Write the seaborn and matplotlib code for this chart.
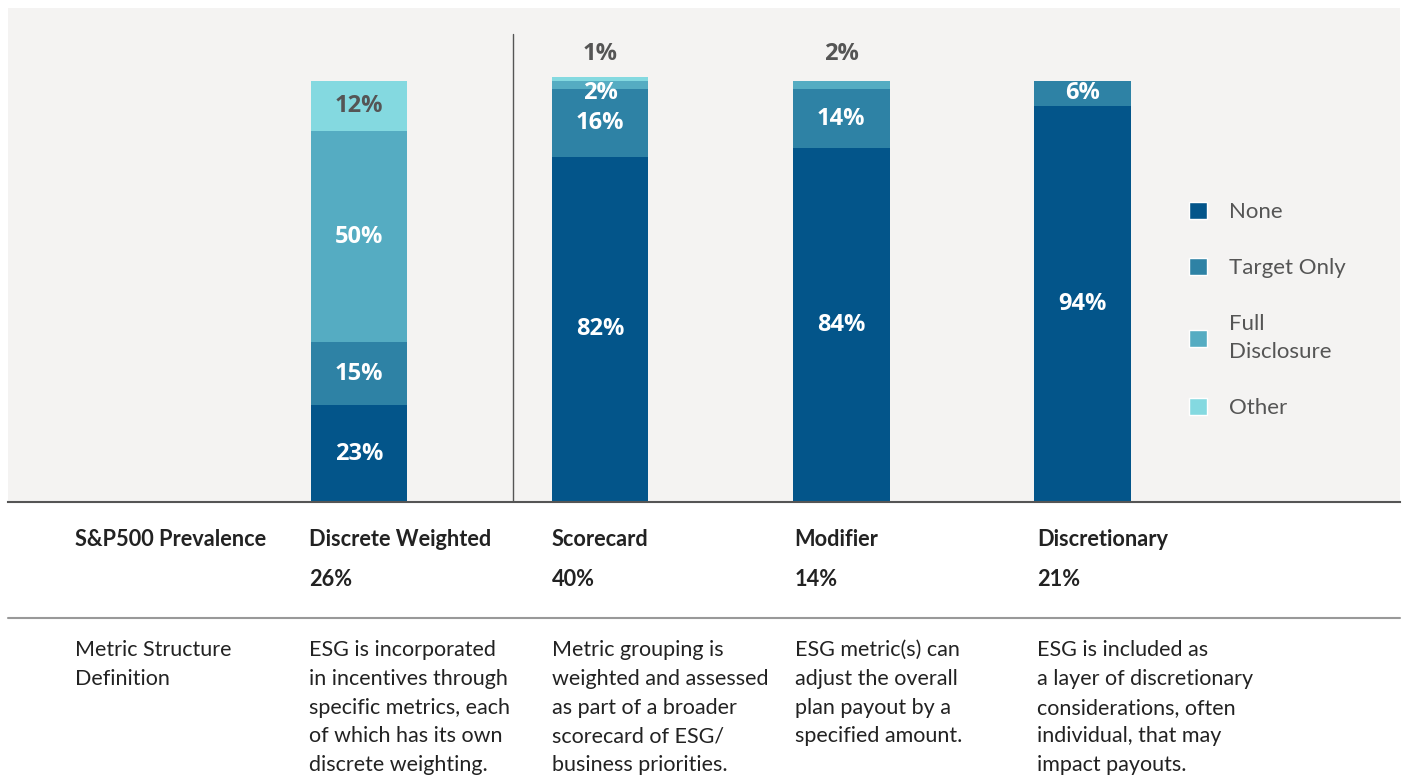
import pandas as pd
import numpy as np
import seaborn as sns
import matplotlib.pyplot as plt
from matplotlib.patches import Patch
from matplotlib.lines import Line2D
from matplotlib.transforms import blended_transform_factory

# chart values
categories = ['Discrete Weighted', 'Scorecard', 'Modifier', 'Discretionary']
prevalence = ['26%', '40%', '14%', '21%']
none = [23, 82, 84, 94]
target_only = [15, 16, 14, 6]
full_disclosure = [50, 2, 2, 0]
other = [12, 1, 0, 0]
segments = ['None', 'Target Only', 'Full Disclosure', 'Other']
legend_labels = ['None', 'Target Only', 'Full\nDisclosure', 'Other']
definitions = [
    'ESG is incorporated\nin incentives through\nspecific metrics, each\nof which has its own\ndiscrete weighting.',
    'Metric grouping is\nweighted and assessed\nas part of a broader\nscorecard of ESG/\nbusiness priorities.',
    'ESG metric(s) can\nadjust the overall\nplan payout by a\nspecified amount.',
    'ESG is included as\na layer of discretionary\nconsiderations, often\nindividual, that may\nimpact payouts.',
]

colors = {'None': '#03558a', 'Target Only': '#2e82a5',
          'Full Disclosure': '#55acc2', 'Other': '#84d9e0'}

values = pd.DataFrame({'None': none, 'Target Only': target_only,
                       'Full Disclosure': full_disclosure, 'Other': other},
                      index=categories)
tops = values.cumsum(axis=1)
bottoms = tops - values

# stacked bars = cumulative totals drawn on top of each other
long = tops.reset_index(names='structure').melt(id_vars='structure', var_name='segment', value_name='top')

sns.set_style('white')
plt.rcParams['font.family'] = ['Lato', 'DejaVu Sans']

fig = plt.figure(figsize=(14.03, 7.83), dpi=100)
ax = fig.add_axes([8 / 1403, 281 / 783, 1392 / 1403, 494 / 783])
ax.set_facecolor('#f4f3f2')

sns.barplot(data=long, x='structure', y='top', hue='segment', hue_order=segments[::-1],
            order=categories, palette=colors, dodge=False, width=0.4, saturation=1,
            errorbar=None, legend=False, linewidth=0, ax=ax)

ax.set_xlim(-1.456, 4.317)
ax.set_ylim(0, 117.3)
ax.set_xticks([])
ax.set_yticks([])
ax.set_xlabel('')
ax.set_ylabel('')
for side in ['top', 'left', 'right']:
    ax.spines[side].set_visible(False)
ax.spines['bottom'].set_color('#555555')
ax.spines['bottom'].set_linewidth(1.5)

# separator between discrete weighted and the rest
ax.plot([0.64, 0.64], [0, 111.2], color='#555555', lw=1)

# segment labels
for i, cat in enumerate(categories):
    nonzero = [s for s in segments if values.loc[cat, s] > 0]
    for s in nonzero:
        v = values.loc[cat, s]
        if s == nonzero[-1] and v <= 2:
            y, col = 106.3, '#555555'
        else:
            y = bottoms.loc[cat, s] + v / 2
            if v <= 2:
                y -= 2
            col = '#555555' if s == 'Other' else 'white'
        ax.text(i, y, f'{v}%', ha='center', va='center', fontsize=17,
                fontweight='bold', color=col, family=['Open Sans', 'DejaVu Sans'])

handles = [Patch(facecolor=colors[s]) for s in segments]
leg = fig.legend(handles, legend_labels, loc='upper left', bbox_to_anchor=(1169 / 1403, 1 - 182 / 783),
                 frameon=False, fontsize=16, labelcolor='#555555', handlelength=0.8, handleheight=0.8,
                 handletextpad=1.0, labelspacing=1.6)
for t in leg.get_texts():
    t.set_linespacing(1.55)

# table below the chart
tr = blended_transform_factory(ax.transData, fig.transFigure)
fig.text(75 / 1403, 1 - 540 / 783, 'S&P500 Prevalence', fontsize=15.7, fontweight='bold',
         color='#222222', va='center')
fig.text(75 / 1403, 1 - 640 / 783, 'Metric Structure\nDefinition', fontsize=15.5,
         color='#222222', va='top', linespacing=1.55)
for i, cat in enumerate(categories):
    x = i * 1.007 - 0.208
    ax.text(x, 1 - 540 / 783, cat, transform=tr, fontsize=15.7, fontweight='bold',
            color='#222222', va='center')
    ax.text(x, 1 - 579 / 783, prevalence[i], transform=tr, fontsize=15.7, fontweight='bold',
            color='#222222', va='center')
    ax.text(x, 1 - 640 / 783, definitions[i], transform=tr, fontsize=15.5,
            color='#222222', va='top', linespacing=1.55)

fig.add_artist(Line2D([8 / 1403, 1400 / 1403], [1 - 618 / 783] * 2, color='#999999', lw=1.5))

plt.savefig('out.png', dpi=100)
